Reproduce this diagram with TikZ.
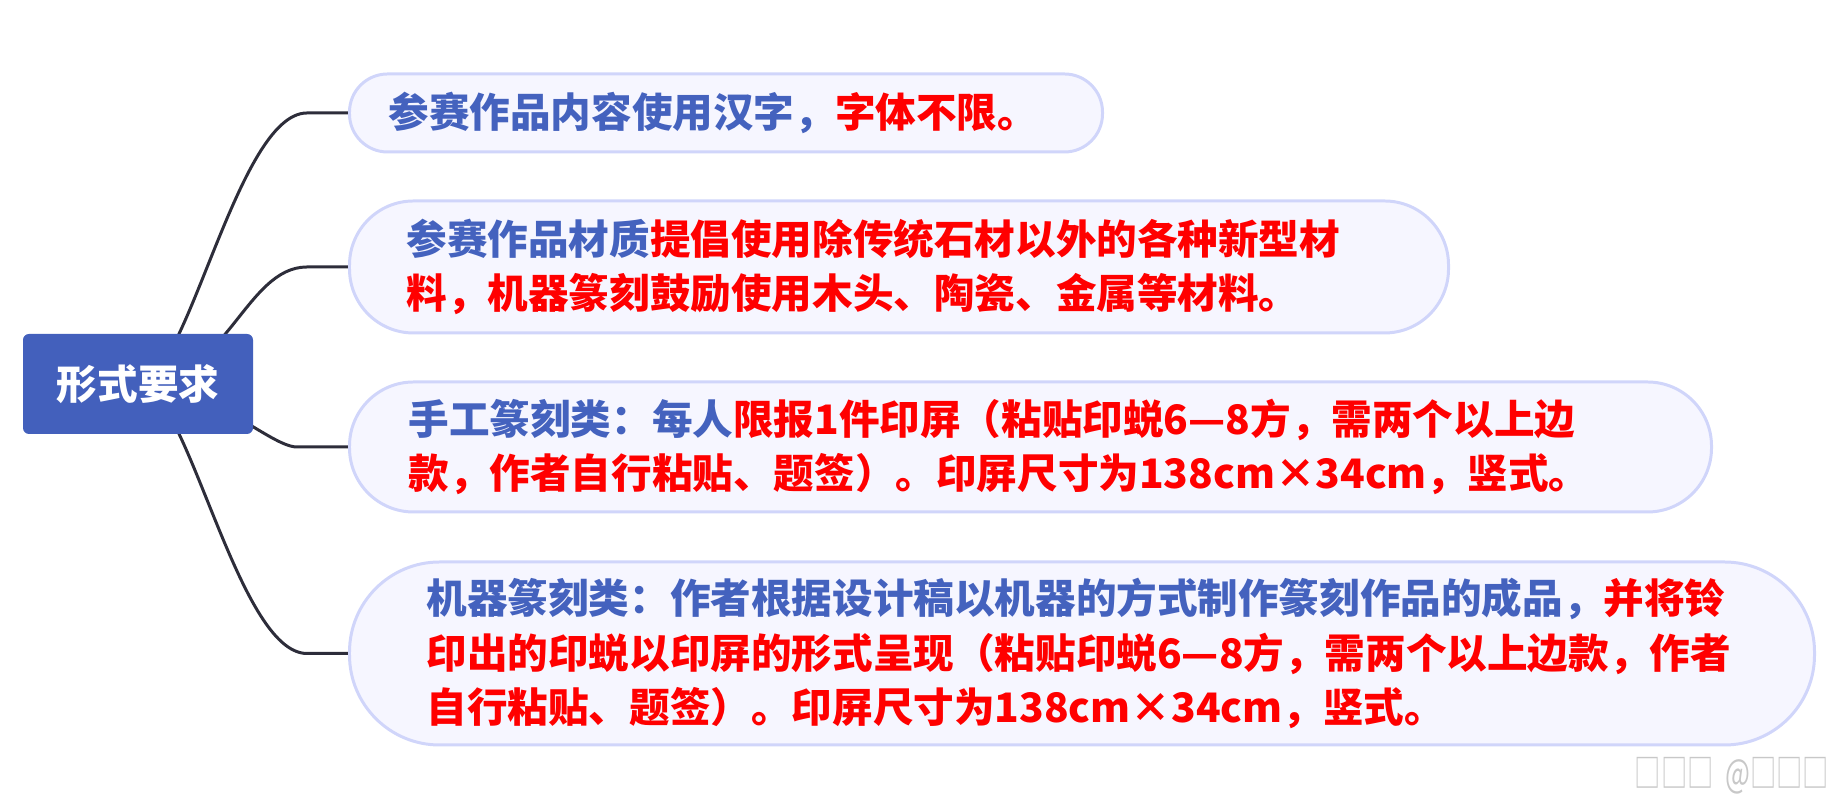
\documentclass[tikz,border=0pt]{standalone}
\usepackage{fontspec}
\setmainfont{Noto Sans CJK SC}
\usetikzlibrary{positioning}
\pgfdeclarelayer{bg}
\pgfsetlayers{bg,main}
\definecolor{topicblue}{RGB}{67,96,188}
\definecolor{itemfill}{RGB}{246,246,255}
\definecolor{itemline}{RGB}{208,213,250}
\definecolor{linkgray}{RGB}{45,45,58}
\definecolor{txtblue}{RGB}{68,98,190}
\definecolor{txtred}{RGB}{255,0,0}
\definecolor{markgray}{RGB}{200,200,200}
\tikzstyle{Topic}=[rectangle, rounded corners=0.06cm, fill=topicblue, text=white, minimum width=2.30cm, minimum height=1.00cm, font=\bfseries\fontsize{11.55pt}{15.4pt}\selectfont]
\tikzstyle{Item}=[rectangle, fill=itemfill, draw=itemline, line width=0.85pt, inner ysep=0pt, align=left, text=txtblue, anchor=west, font=\bfseries\fontsize{11.55pt}{15.4pt}\selectfont]
\tikzstyle{Link}=[draw=linkgray, line width=0.85pt]
\newcommand{\hl}[1]{\textcolor{txtred}{#1}}

\begin{document}
\begin{tikzpicture}
    \useasboundingbox (0,0) rectangle (18.43,7.95);
    \path
    (1.38,4.11) node[Topic] (req) {形式要求}
    (3.48,6.82) node[Item, rounded corners=0.38cm, text width=6.75cm, inner xsep=0.39cm, minimum height=0.78cm] (font)
        {参赛作品内容使用汉字，\hl{字体不限。}}
    (3.48,5.28) node[Item, rounded corners=0.64cm, text width=9.85cm, inner xsep=0.57cm, minimum height=1.32cm] (mat)
        {参赛作品材质\hl{提倡使用除传统石材以外的各种新型材}\\\hl{料，机器篆刻鼓励使用木头、陶瓷、金属等材料。}}
    (3.48,3.48) node[Item, rounded corners=0.64cm, text width=12.44cm, inner xsep=0.59cm, minimum height=1.30cm] (hand)
        {手工篆刻类：每人\hl{限报1件印屏（粘贴印蜕6—8方，需两个以上边}\\\hl{款，作者自行粘贴、题签）。印屏尺寸为138cm×34cm，竖式。}}
    (3.48,1.415) node[Item, rounded corners=0.90cm, text width=13.11cm, inner xsep=0.77cm, minimum height=1.83cm] (mach)
        {机器篆刻类：作者根据设计稿以机器的方式制作篆刻作品的成品，\hl{并将铃}\\\hl{印出的印蜕以印屏的形式呈现（粘贴印蜕6—8方，需两个以上边款，作者}\\\hl{自行粘贴、题签）。印屏尺寸为138cm×34cm，竖式。}}
    (17.32,0.19) node[transform shape, xscale=0.68, text=markgray, font=\fontsize{11pt}{12pt}\selectfont] (mark) {□□□\hspace{0.45em}@□□□};

    \begin{pgfonlayer}{bg}
    \draw[Link] (font.west) -- ++(-0.41,0) .. controls +(-0.70,0) and +(0.49,0) .. (req.center);
    \draw[Link] (mat.west) -- ++(-0.41,0) .. controls +(-0.62,0) and +(0.88,0) .. (req.center);
    \draw[Link] (hand.west) -- ++(-0.51,0) .. controls +(-0.27,0) and +(0.71,0) .. (req.center);
    \draw[Link] (mach.west) -- ++(-0.41,0) .. controls +(-0.70,0) and +(0.49,0) .. (req.center);
    \end{pgfonlayer}
\end{tikzpicture}
\end{document}
